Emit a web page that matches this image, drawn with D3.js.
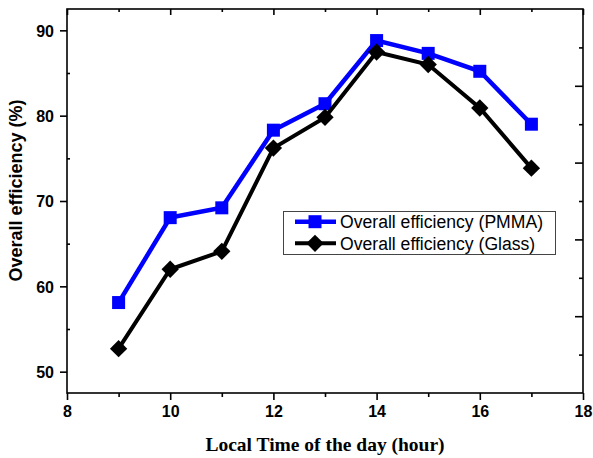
<!DOCTYPE html>
<html>
<head>
<meta charset="utf-8">
<script src="https://cdn.jsdelivr.net/npm/d3@7"></script>
<style>
  html, body { margin: 0; padding: 0; background: #fff; }
  svg { display: block; }
</style>
</head>
<body>
<svg id="chart" width="593" height="458"></svg>
<script>
// ---- data ----
const hours = [9, 10, 11, 12, 13, 14, 15, 16, 17];
const pmma  = [58.1, 68.05, 69.2, 78.3, 81.4, 88.8, 87.3, 85.2, 79.0];
const glass = [52.7, 62.0, 64.1, 76.2, 79.8, 87.45, 86.0, 80.9, 73.85];
const xMajorTicks = [8, 10, 12, 14, 16, 18];
const xMinorTicks = [9, 11, 13, 15, 17];
const yMajorTicks = [50, 60, 70, 80, 90];
const yMinorTicks = [55, 65, 75, 85];
const rightTicks  = [1, 2, 3, 4, 5, 6, 7, 8, 9];
const seriesNames = ["Overall efficiency (PMMA)", "Overall efficiency (Glass)"];
const xTitle = "Local Time of the day (hour)";
const yTitle = "Overall efficiency (%)";

// ---- layout ----
const L = 67, R = 583, T = 9, B = 393;
const svg = d3.select("#chart");
const x = d3.scaleLinear().domain([8, 18]).range([L, R]);
const y = d3.scaleLinear().domain([47.5, 92.5]).range([B, T]);
const yR = d3.scaleLinear().domain([0, 10]).range([B, T]);

const axisW = 1.6;

// frame
svg.append("rect").attr("x", L).attr("y", T).attr("width", R - L).attr("height", B - T)
  .attr("fill", "none").attr("stroke", "#000").attr("stroke-width", axisW);

// bottom axis (outward ticks)
const gB = svg.append("g").attr("transform", `translate(0,${B})`)
  .call(d3.axisBottom(x).tickValues(xMajorTicks).tickSize(7).tickPadding(6).tickFormat(d3.format("d")));
const gBm = svg.append("g").attr("transform", `translate(0,${B})`)
  .call(d3.axisBottom(x).tickValues(xMinorTicks).tickSize(4).tickFormat(""));
// top axis (inward ticks)
const gT = svg.append("g").attr("transform", `translate(0,${T})`)
  .call(d3.axisBottom(x).tickValues(xMajorTicks).tickSize(6).tickFormat(""));
const gTm = svg.append("g").attr("transform", `translate(0,${T})`)
  .call(d3.axisBottom(x).tickValues(xMinorTicks).tickSize(3).tickFormat(""));
// left axis
const gL = svg.append("g").attr("transform", `translate(${L},0)`)
  .call(d3.axisLeft(y).tickValues(yMajorTicks).tickSize(7).tickPadding(6).tickFormat(d3.format("d")));
const gLm = svg.append("g").attr("transform", `translate(${L},0)`)
  .call(d3.axisRight(y).tickValues(yMinorTicks).tickSize(3).tickFormat(""));
// right axis (inward ticks, its own spacing)
const gR = svg.append("g").attr("transform", `translate(${R},0)`)
  .call(d3.axisLeft(yR).tickValues(rightTicks.filter(d => d % 2 === 0)).tickSize(8).tickFormat(""));
const gRm = svg.append("g").attr("transform", `translate(${R},0)`)
  .call(d3.axisLeft(yR).tickValues(rightTicks.filter(d => d % 2 === 1)).tickSize(4).tickFormat(""));

[gB, gBm, gT, gTm, gL, gLm, gR, gRm].forEach(g => {
  g.select(".domain").remove();
  g.selectAll("line").attr("stroke", "#000").attr("stroke-width", axisW);
  g.selectAll("text").attr("fill", "#000")
    .style("font-family", "Arial, 'Liberation Sans', sans-serif")
    .style("font-weight", "bold").style("font-size", "16px");
});
gL.selectAll("text").attr("dy", "0.36em");

// axis titles
svg.append("text").attr("x", 325).attr("y", 451).attr("text-anchor", "middle")
  .style("font-family", "'Times New Roman', 'Liberation Serif', serif")
  .style("font-weight", "bold").style("font-size", "19.5px").text(xTitle);
svg.append("text").attr("transform", `translate(22,${190.5}) rotate(-90)`).attr("text-anchor", "middle")
  .style("font-family", "Arial, 'Liberation Sans', sans-serif")
  .style("font-weight", "bold").style("font-size", "18px").text(yTitle);

// series
const line = d3.line().x(d => x(d[0])).y(d => y(d[1]));
const dPMMA = hours.map((h, i) => [h, pmma[i]]);
const dGlass = hours.map((h, i) => [h, glass[i]]);

svg.append("path").datum(dPMMA).attr("d", line).attr("fill", "none")
  .attr("stroke", "#0000FF").attr("stroke-width", 4.5);
svg.selectAll(".sq").data(dPMMA).enter().append("rect")
  .attr("x", d => x(d[0]) - 6.5).attr("y", d => y(d[1]) - 6.5)
  .attr("width", 13).attr("height", 13).attr("fill", "#0000FF");

svg.append("path").datum(dGlass).attr("d", line).attr("fill", "none")
  .attr("stroke", "#000").attr("stroke-width", 4);
svg.selectAll(".dm").data(dGlass).enter().append("path")
  .attr("transform", d => `translate(${x(d[0])},${y(d[1])}) rotate(45)`)
  .attr("d", d3.symbol().type(d3.symbolSquare).size(150)).attr("fill", "#000");

// legend
const lg = svg.append("g");
lg.append("rect").attr("x", 283.5).attr("y", 211.5).attr("width", 272).attr("height", 43)
  .attr("fill", "#fff").attr("stroke", "#444").attr("stroke-width", 1);
const rows = [
  { name: seriesNames[0], color: "#0000FF", shape: "sq", yy: 221.7, w: 4.5 },
  { name: seriesNames[1], color: "#000", shape: "dm", yy: 243.3, w: 4 }
];
rows.forEach(r => {
  lg.append("line").attr("x1", 295).attr("x2", 336).attr("y1", r.yy).attr("y2", r.yy)
    .attr("stroke", r.color).attr("stroke-width", r.w);
  if (r.shape === "sq") {
    lg.append("rect").attr("x", 315 - 6.5).attr("y", r.yy - 6.5).attr("width", 13).attr("height", 13).attr("fill", r.color);
  } else {
    lg.append("path").attr("transform", `translate(315,${r.yy}) rotate(45)`)
      .attr("d", d3.symbol().type(d3.symbolSquare).size(150)).attr("fill", r.color);
  }
  lg.append("text").attr("x", 340).attr("y", r.yy).attr("dy", "0.36em")
    .style("font-family", "Arial, 'Liberation Sans', sans-serif").style("font-size", "17.6px")
    .text(r.name);
});
</script>
</body>
</html>
